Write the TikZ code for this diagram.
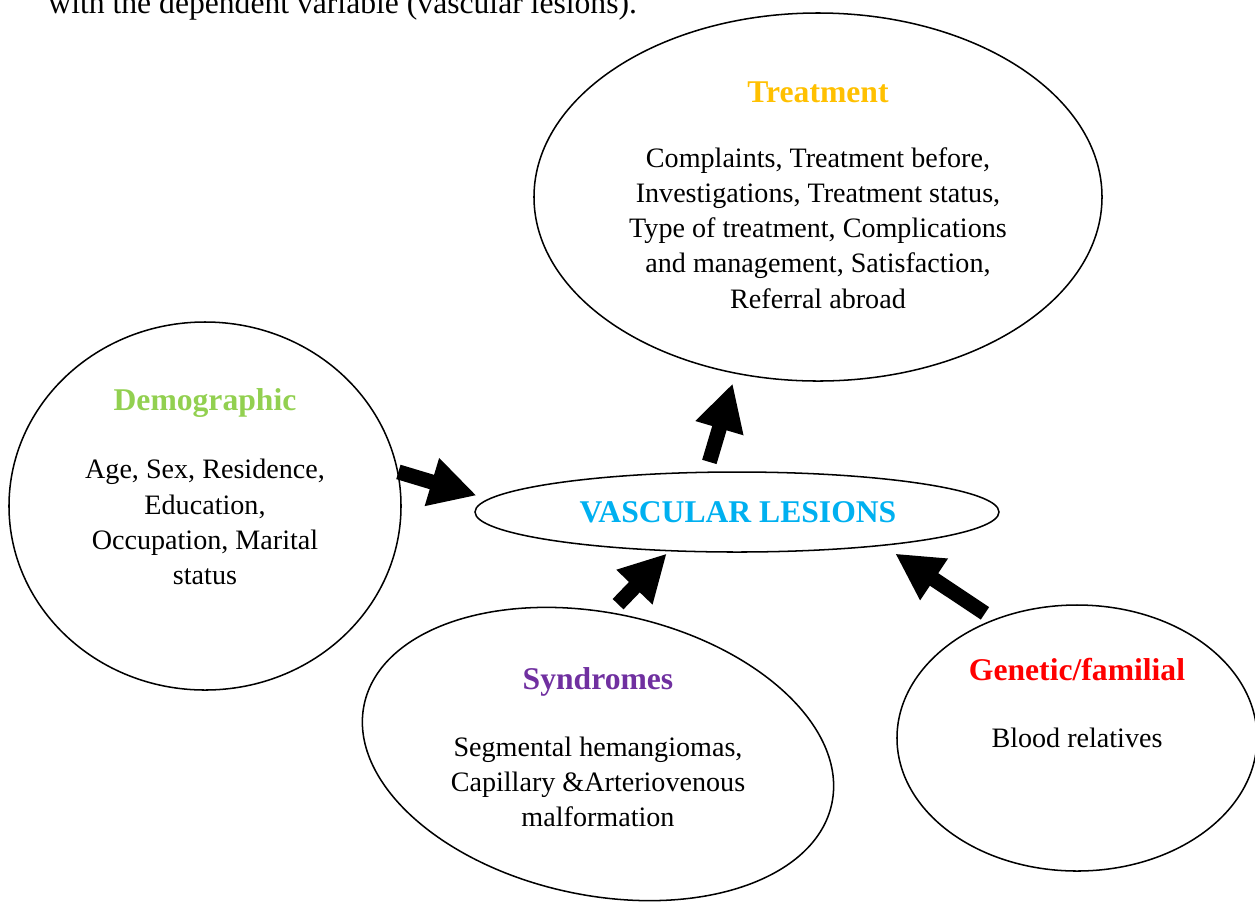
\documentclass[tikz,border=0pt]{standalone}
\usepackage{fontspec}
\setmainfont{Liberation Serif}
\usepackage{tikz}
\usetikzlibrary{arrows.meta,shapes.geometric}
\definecolor{treatgold}{HTML}{FFC000}
\definecolor{demogreen}{HTML}{92D050}
\definecolor{lesionblue}{HTML}{00B0F0}
\definecolor{synpurple}{HTML}{7030A0}
\definecolor{genred}{HTML}{FF0000}
\begin{document}
\begin{tikzpicture}[
  x=0.015cm,y=-0.015cm,
  ovalnode/.style={ellipse,draw=black,line width=0.65pt,inner sep=0pt},
  titletext/.style={font=\fontsize{13.5}{16}\selectfont\bfseries,inner sep=0pt},
  bodytext/.style={font=\fontsize{12}{15}\selectfont,align=center,inner sep=0pt},
  fatarr/.style={-{Triangle[length=0.7cm,width=0.7cm]},line width=0.225cm,black},
]
\useasboundingbox (0,0) rectangle (1255,901);

% Line of running text above the figure
\node[anchor=base west,font=\fontsize{13.5}{16}\selectfont,inner sep=0pt] (intro) at (48,13) {with the dependent variable (vascular lesions).};

% Ovals
\node[ovalnode,minimum width=8.52cm,minimum height=5.52cm] (treat) at (818,197) {};
\node[ovalnode,minimum width=5.88cm,minimum height=5.52cm] (demo)  at (205,506) {};
\node[ovalnode,minimum width=7.86cm,minimum height=1.2cm]  (vl)    at (737,512) {};
\node[ovalnode,minimum width=7.17cm,minimum height=4.23cm,rotate=-12] (syn) at (598,754) {};
\node[ovalnode,minimum width=5.4cm,minimum height=3.99cm]  (gen)   at (1077,738) {};

% Texts
\node[titletext,text=treatgold] (treattitle) at (818,92) {Treatment};
\node[bodytext] (treatbody) at (818,228) {Complaints, Treatment before,\\Investigations, Treatment status,\\Type of treatment, Complications\\and management, Satisfaction,\\Referral abroad};
\node[titletext,text=demogreen] (demotitle) at (205,403) {Demographic};
\node[bodytext] (demobody) at (205,522) {Age, Sex, Residence,\\Education,\\Occupation, Marital\\status};
\node[titletext,text=lesionblue] (vltitle) at (738,512) {VASCULAR LESIONS};
\node[titletext,text=synpurple] (syntitle) at (598,682) {Syndromes};
\node[bodytext] (synbody) at (598,782) {Segmental hemangiomas,\\Capillary \&Arteriovenous\\malformation};
\node[titletext,text=genred] (gentitle) at (1077,670) {Genetic/familial};
\node[bodytext] (genbody) at (1077,738) {Blood relatives};

% Block arrows
\draw[fatarr,shorten >=0.18cm] (demo.10) -- (vl.177);
\draw[fatarr,shorten <=0.165cm,shorten >=0.045cm] (syn.97) -- (vl.210);
\draw[fatarr,shorten <=0.16cm,shorten >=0.21cm] (gen.125) -- (vl.347);
\draw[fatarr,shorten <=0.15cm,shorten >=0.15cm] (vl.127) -- (treat.245);
\end{tikzpicture}
\end{document}
